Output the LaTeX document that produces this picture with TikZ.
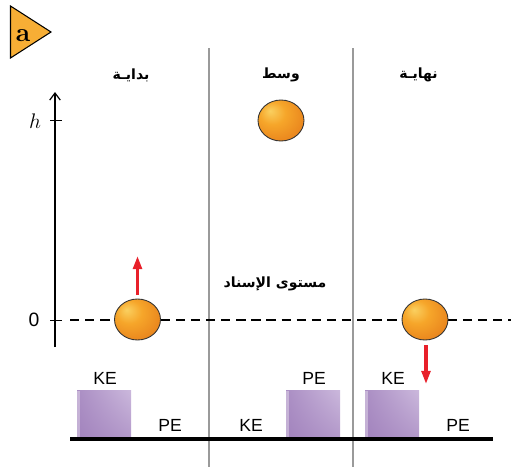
\documentclass[tikz,border=0pt]{standalone}
\usepackage{fontspec}
\setsansfont{Liberation Sans}
\newfontfamily\arabicfont[Script=Arabic]{DejaVu Sans}
\TeXXeTstate=1
\usepackage{xcolor}
\usetikzlibrary{shapes.geometric,arrows.meta,shadings}

\definecolor{badgeorange}{HTML}{F7AE35}
\definecolor{ballin}{HTML}{FAD060}
\definecolor{ballmid}{HTML}{F6A62A}
\definecolor{ballout}{HTML}{E8821C}
\definecolor{bardark}{HTML}{A283BD}
\definecolor{barlight}{HTML}{CBB8DC}
\definecolor{sepgray}{HTML}{9A9A9A}
\definecolor{arrowred}{HTML}{E8202A}

\pgfdeclareradialshading{orangeball}{\pgfpoint{-12bp}{12bp}}{color(0bp)=(ballin); color(14bp)=(ballmid); color(34bp)=(ballout); color(60bp)=(ballout)}

\newlength\unitpx \setlength\unitpx{0.02cm}
\tikzset{
  ball/.style={ellipse, draw=black!80, line width=0.5pt, minimum width=46\unitpx, minimum height=41\unitpx,
    inner sep=0pt, shading=orangeball},
  heading/.style={font=\arabicfont\bfseries\fontsize{8}{9}\selectfont},
  barlabel/.style={font=\sffamily\fontsize{10}{12}\selectfont},
  velocity/.style={arrowred, line width=1.8pt, -{Triangle[length=7.5pt,width=5pt]}}
}

\begin{document}
\begin{tikzpicture}[x=0.02cm,y=-0.02cm]
\useasboundingbox (0,0) rectangle (511,467);

%%%%%%%%%%%%%%%%%%%% badge %%%%%%%%%%%%%%%%%%%%
\draw[fill=badgeorange, line width=0.6pt] (10.5,6) -- (51,32) -- (10.5,58) -- cycle;
\node (badge) at (23,36) {\fontsize{15}{16}\selectfont\bfseries\rmfamily a};

%%%%%%%%%%%%%%%%%%%% columns %%%%%%%%%%%%%%%%%%%%
\draw[sepgray, line width=0.6pt] (209,48) -- (209,467);
\draw[sepgray, line width=0.6pt] (353,48) -- (353,467);

\node[heading] (start) at (131,75) {\beginR بدايـة\endR};
\node[heading] (middle) at (281,75) {\beginR وسط\endR};
\node[heading] (final) at (418.5,75) {\beginR نهايـة\endR};

%%%%%%%%%%%%%%%%%%%% height axis %%%%%%%%%%%%%%%%%%%%
\draw[line width=0.7pt, -{Straight Barb[length=4pt,width=6pt]}] (55,347) -- (55,92);
\draw[line width=0.5pt] (50,120) -- (62,120); \draw[line width=0.5pt] (50,320) -- (62,320);
\node (hlabel) at (35,121) {\fontsize{12}{14}\selectfont$h$};
\node[font=\sffamily\fontsize{11}{12}\selectfont] (zero) at (34,320) {0};

\draw[line width=1.7pt, dash pattern=on 5.3pt off 3.3pt] (70,320) -- (511,320);
\node[heading] (reflevel) at (275,284) {\beginR مستوى الإسناد\endR};

%%%%%%%%%%%%%%%%%%%% balls %%%%%%%%%%%%%%%%%%%%
\node[ball] (ballA) at (137.5,319.5) {};
\node[ball] (ballB) at (281,120.5) {};
\node[ball] (ballC) at (425,319.5) {};

\draw[velocity] (137.5,295) -- (137.5,256);
\draw[velocity] (426,345) -- (426,384);

%%%%%%%%%%%%%%%%%%%% energy bars %%%%%%%%%%%%%%%%%%%%
\foreach \x in {77,286,365}{
  \shade[lower left=bardark, upper right=barlight, upper left=bardark!80!barlight, lower right=bardark!60!barlight]
    (\x,390) rectangle (\x+54,439);
  \fill[white, opacity=0.35] (\x,391) rectangle (\x+3,439);
}
\draw[line width=1.8pt] (70,439) -- (493,439);

\node[barlabel] (keA) at (105,378) {KE};
\node[barlabel] (peA) at (170,425) {PE};
\node[barlabel] (keB) at (251,425) {KE};
\node[barlabel] (peB) at (314,378) {PE};
\node[barlabel] (keC) at (393,378) {KE};
\node[barlabel] (peC) at (458,425) {PE};

\end{tikzpicture}
\end{document}
